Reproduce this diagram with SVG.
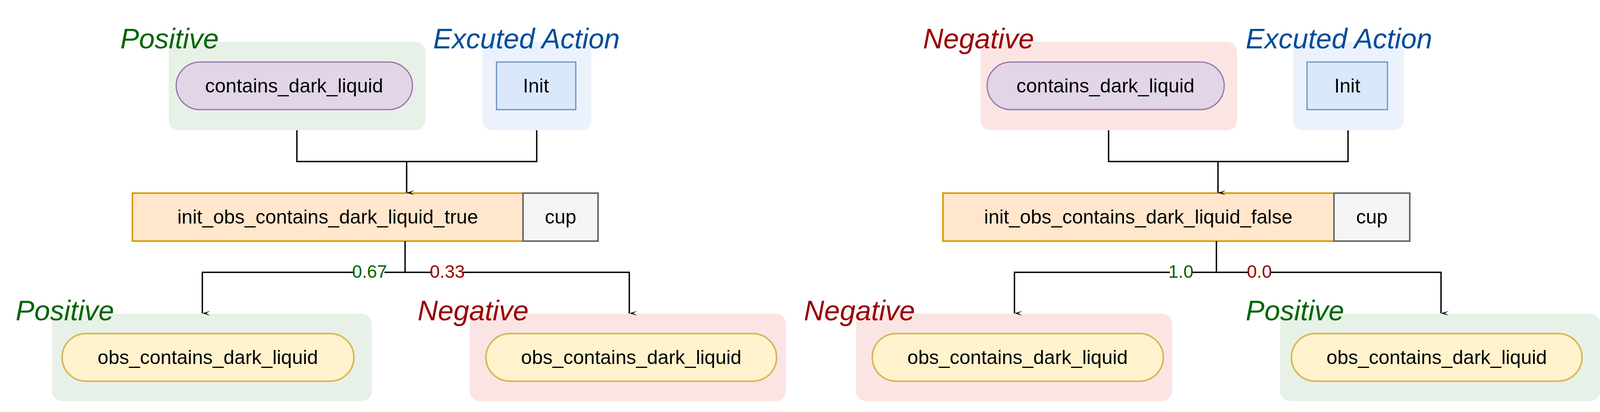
<svg xmlns="http://www.w3.org/2000/svg" width="4116" height="1056" viewBox="0 0 4116 1056">
<style>
.t{font-family:"Liberation Sans Narrow","Liberation Sans",sans-serif;font-size:50px;text-anchor:middle;dominant-baseline:central;fill:#000}
.lab{font-family:"Liberation Sans Narrow","Liberation Sans",sans-serif;font-size:72px;font-style:italic}
.pos{fill:#006600}.neg{fill:#990000}.act{fill:#004c99}
.gb{fill:#e8f1e7}.rb{fill:#fae5e4}.bb{fill:#ebf2fc}
.pp{fill:#e1d5e7;stroke:#9673a6;stroke-width:3}
.ib{fill:#dae8fc;stroke:#6c8ebf;stroke-width:3}
.ob{fill:#ffe6cc;stroke:#d79b00;stroke-width:4}
.cb{fill:#f5f5f5;stroke:#666;stroke-width:4}
.yp{fill:#fff2cc;stroke:#d6b656;stroke-width:4}
.c{fill:none;stroke:#000;stroke-width:3.5}
.p{font-family:"Liberation Sans Narrow","Liberation Sans",sans-serif;font-size:46px;text-anchor:middle;dominant-baseline:central}
</style>
<defs><marker id="a" markerWidth="12" markerHeight="20" refX="6" refY="20" orient="auto-start-reverse" markerUnits="userSpaceOnUse" viewBox="0 0 12 20"><path d="M0,0 L6,20 L12,0 L6,10 Z" fill="#000"/></marker></defs>
<rect width="4116" height="1056" fill="#fff"/>
<g id="left-top-pos"><rect class="gb" x="432" y="107" width="657" height="227" rx="26"/><text class="lab pos" x="308" y="124">Positive</text>
<rect class="pp" x="451" y="159" width="605" height="122" rx="61"/><text class="t" x="753" y="220">contains_dark_liquid</text></g>
<g id="left-action"><rect class="bb" x="1235" y="107" width="279" height="227" rx="26"/><text class="lab act" x="1109" y="124">Excuted Action</text>
<rect class="ib" x="1271" y="159" width="203" height="122"/><text class="t" x="1372" y="220">Init</text></g>
<g id="left-mid"><rect class="ob" x="339" y="495" width="1000" height="123"/><text class="t" x="839" y="556">init_obs_contains_dark_liquid_true</text>
<rect class="cb" x="1339" y="495" width="192" height="123"/><text class="t" x="1435" y="556" fill="#333">cup</text></g>
<g id="left-bl"><rect class="gb" x="133" y="804" width="819" height="224" rx="26"/><text class="lab pos" x="40" y="821">Positive</text>
<rect class="yp" x="159" y="855" width="747" height="122" rx="61"/><text class="t" x="532" y="916">obs_contains_dark_liquid</text></g>
<g id="left-br"><rect class="rb" x="1202" y="804" width="810" height="224" rx="26"/><text class="lab neg" x="1069" y="821">Negative</text>
<rect class="yp" x="1244" y="855" width="744" height="122" rx="61"/><text class="t" x="1616" y="916">obs_contains_dark_liquid</text></g>
<g id="right-top-neg"><rect class="rb" x="2510" y="107" width="657" height="227" rx="26"/><text class="lab neg" x="2363" y="124">Negative</text>
<rect class="pp" x="2527" y="159" width="607" height="122" rx="61"/><text class="t" x="2830" y="220">contains_dark_liquid</text></g>
<g id="right-action"><rect class="bb" x="3310" y="107" width="284" height="227" rx="26"/><text class="lab act" x="3189" y="124">Excuted Action</text>
<rect class="ib" x="3346" y="159" width="206" height="122"/><text class="t" x="3449" y="220">Init</text></g>
<g id="right-mid"><rect class="ob" x="2414" y="495" width="1001" height="123"/><text class="t" x="2914" y="556">init_obs_contains_dark_liquid_false</text>
<rect class="cb" x="3415" y="495" width="194" height="123"/><text class="t" x="3512" y="556" fill="#333">cup</text></g>
<g id="right-bl"><rect class="rb" x="2191" y="804" width="810" height="224" rx="26"/><text class="lab neg" x="2058" y="821">Negative</text>
<rect class="yp" x="2233" y="855" width="745" height="122" rx="61"/><text class="t" x="2605" y="916">obs_contains_dark_liquid</text></g>
<g id="right-br"><rect class="gb" x="3277" y="804" width="820" height="224" rx="26"/><text class="lab pos" x="3189" y="821">Positive</text>
<rect class="yp" x="3306" y="855" width="744" height="122" rx="61"/><text class="t" x="3678" y="916">obs_contains_dark_liquid</text></g>
<g id="connectors">
<path class="c" d="M760,334 V414 H1374 V334"/><path class="c" d="M1041,414 V494" marker-end="url(#a)"/>
<path class="c" d="M1037,618 V698"/><path class="c" d="M1037,698 H518 V803" marker-end="url(#a)"/><path class="c" d="M1037,698 H1611 V803" marker-end="url(#a)"/>
<rect x="908" y="674" width="76" height="48" fill="#fff"/><text class="p pos" x="946" y="696">0.67</text>
<rect x="1107" y="674" width="76" height="48" fill="#fff"/><text class="p neg" x="1145" y="696">0.33</text>
<path class="c" d="M2838,334 V414 H3451 V334"/><path class="c" d="M3118,414 V494" marker-end="url(#a)"/>
<path class="c" d="M3114,618 V698"/><path class="c" d="M3114,698 H2597 V803" marker-end="url(#a)"/><path class="c" d="M3114,698 H3689 V803" marker-end="url(#a)"/>
<rect x="2995" y="674" width="56" height="48" fill="#fff"/><text class="p pos" x="3023" y="696">1.0</text>
<rect x="3196" y="674" width="56" height="48" fill="#fff"/><text class="p neg" x="3224" y="696">0.0</text>
</g>
</svg>
